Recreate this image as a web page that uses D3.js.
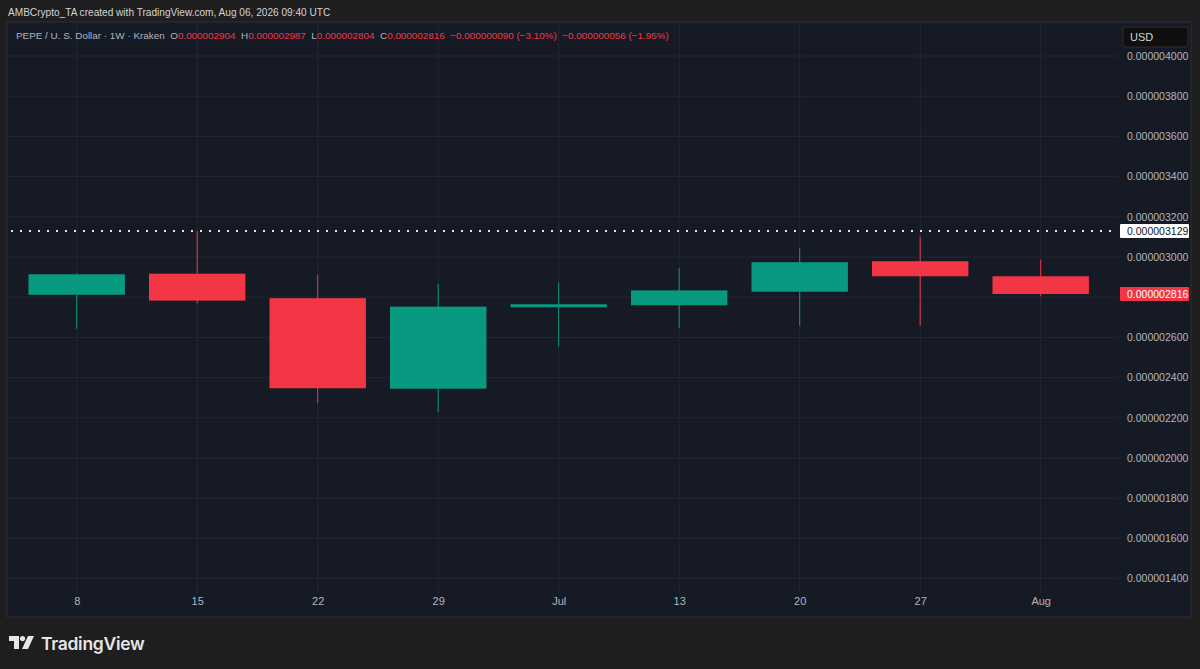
<!DOCTYPE html>
<html>
<head>
<meta charset="utf-8">
<script src="https://cdn.jsdelivr.net/npm/d3@7"></script>
<style>
  html, body { margin: 0; padding: 0; background: #1e1e1e; }
  svg { display: block; }
</style>
</head>
<body>
<svg id="chart" width="1200" height="669"></svg>
<script>
// weekly candles, PEPE/USD (Kraken)
const weeks = ["2026-06-08", "2026-06-15", "2026-06-22", "2026-06-29", "2026-07-06",
               "2026-07-13", "2026-07-20", "2026-07-27", "2026-08-03"];
const tickLabels = ["8", "15", "22", "29", "Jul", "13", "20", "27", "Aug"];
const opens  = [0.000002812, 0.000002917, 0.000002795, 0.000002345, 0.000002750,
                0.000002760, 0.000002827, 0.000002979, 0.000002904];
const highs  = [0.000002919, 0.000003129, 0.000002910, 0.000002866, 0.000002874,
                0.000002944, 0.000003043, 0.000003101, 0.000002987];
const lows   = [0.000002643, 0.000002768, 0.000002272, 0.000002229, 0.000002554,
                0.000002648, 0.000002658, 0.000002658, 0.000002804];
const closes = [0.000002914, 0.000002783, 0.000002347, 0.000002753, 0.000002765,
                0.000002834, 0.000002974, 0.000002904, 0.000002816];
const priceTicks = [0.0000014, 0.0000016, 0.0000018, 0.0000020, 0.0000022, 0.0000024,
                    0.0000026, 0.0000028, 0.0000030, 0.0000032, 0.0000034, 0.0000036,
                    0.0000038, 0.0000040];
const highMark = 0.000003129;
// change figures as printed in the legend
const legendChanges = ["−0.000000090 (−3.10%)", "−0.000000056 (−1.95%)"];

const UP = "#089981", DOWN = "#f23645";
const FONT = "Liberation Sans, sans-serif";
const svg = d3.select("#chart");

const panel = { left: 7, top: 22, right: 1191, bottom: 617 };
const plotRight = 1118, plotBottom = 593;

const parse = d3.utcParse("%Y-%m-%d");
const data = weeks.map(function (w, i) {
    return { date: parse(w), label: tickLabels[i], o: opens[i], h: highs[i], l: lows[i], c: closes[i] };
});
const last = data[data.length - 1];

const x = d3.scaleUtc()
    .domain([data[0].date, last.date])
    .range([76.7, 1040.7]);
const y = d3.scaleLinear().domain([0.0000014, 0.000004]).range([578.6, 56]);
const fmt = d3.format(".9f");

const step = x(data[1].date) - x(data[0].date);
const bodyW = step * 0.8;

// header line
svg.append("text")
    .attr("x", 8).attr("y", 16)
    .attr("font-family", FONT)
    .attr("font-size", 10.1)
    .attr("fill", "#d1d4dc")
    .text("AMBCrypto_TA created with TradingView.com, Aug 06, 2026 09:40 UTC");

// chart panel
svg.append("rect")
    .attr("x", panel.left).attr("y", panel.top)
    .attr("width", panel.right - panel.left).attr("height", panel.bottom - panel.top)
    .attr("fill", "#161a25").attr("stroke", "#2a2e39").attr("stroke-width", 1);

// grid
svg.append("g").selectAll("line").data(priceTicks).enter().append("line")
    .attr("x1", panel.left + 1).attr("x2", plotRight)
    .attr("y1", function (d) { return y(d); }).attr("y2", function (d) { return y(d); })
    .attr("stroke", "#232733").attr("stroke-width", 1);

svg.append("g").selectAll("line").data(data).enter().append("line")
    .attr("x1", function (d) { return x(d.date); }).attr("x2", function (d) { return x(d.date); })
    .attr("y1", panel.top + 1).attr("y2", plotBottom)
    .attr("stroke", "#232733").attr("stroke-width", 1);

// price axis (labels under a badge are hidden, as TradingView does)
const badges = [highMark, last.c];
const shownTicks = priceTicks.filter(function (t) {
    return badges.every(function (b) { return Math.abs(y(t) - y(b)) > 12; });
});
const yAxis = d3.axisRight(y).tickValues(shownTicks).tickFormat(fmt).tickSize(0).tickPadding(0);
const ya = svg.append("g").attr("transform", "translate(1127,0)").call(yAxis);
ya.select(".domain").remove();
ya.selectAll("text")
    .attr("font-family", FONT)
    .attr("font-size", 10.5)
    .attr("fill", "#b2b5be");

// time axis
const xAxis = d3.axisBottom(x)
    .tickValues(data.map(function (d) { return d.date; }))
    .tickFormat(function (d, i) { return tickLabels[i]; })
    .tickSize(0).tickPadding(0);
const xa = svg.append("g").attr("transform", "translate(0,597)").call(xAxis);
xa.select(".domain").remove();
xa.selectAll("text")
    .attr("font-family", FONT)
    .attr("font-size", 11)
    .attr("fill", "#b2b5be");

// high marker line
svg.append("line")
    .attr("x1", panel.left + 4).attr("x2", plotRight)
    .attr("y1", y(highMark)).attr("y2", y(highMark))
    .attr("stroke", "#e8e8e8").attr("stroke-width", 2)
    .attr("stroke-dasharray", "2,7");

// candles
const candles = svg.append("g").selectAll("g").data(data).enter().append("g");
candles.append("line")
    .attr("x1", function (d) { return x(d.date); }).attr("x2", function (d) { return x(d.date); })
    .attr("y1", function (d) { return y(d.h); }).attr("y2", function (d) { return y(d.l); })
    .attr("stroke", function (d) { return d.c >= d.o ? UP : DOWN; })
    .attr("stroke-width", 1);
candles.append("rect")
    .attr("x", function (d) { return x(d.date) - bodyW / 2; })
    .attr("width", bodyW)
    .attr("y", function (d) { return y(Math.max(d.o, d.c)); })
    .attr("height", function (d) { return Math.max(2, Math.abs(y(d.o) - y(d.c))); })
    .attr("fill", function (d) { return d.c >= d.o ? UP : DOWN; });

// price badges
function badge(value, bg, fg) {
    const g = svg.append("g");
    g.append("rect")
        .attr("x", 1120).attr("y", y(value) - 7)
        .attr("width", 69).attr("height", 14)
        .attr("rx", 1).attr("fill", bg);
    g.append("text")
        .attr("x", 1127).attr("y", y(value) + 4)
        .attr("font-family", FONT)
        .attr("font-size", 10.5)
        .attr("fill", fg)
        .text(fmt(value));
}
badge(highMark, "#ffffff", "#131722");
badge(last.c, last.c >= last.o ? UP : DOWN, "#ffffff");

// USD button
svg.append("rect")
    .attr("x", 1123).attr("y", 27).attr("width", 65).attr("height", 20)
    .attr("rx", 3).attr("fill", "#0f0f0f").attr("stroke", "#2e2e2e");
svg.append("text")
    .attr("x", 1130).attr("y", 41)
    .attr("font-family", FONT)
    .attr("font-size", 11)
    .attr("fill", "#d1d4dc")
    .text("USD");

// legend
const legend = svg.append("text")
    .attr("x", 16).attr("y", 39)
    .attr("font-family", FONT)
    .attr("font-size", 9.9)
    .attr("fill", "#b2b5be")
    .attr("xml:space", "preserve");
legend.append("tspan").text("PEPE / U. S. Dollar · 1W · Kraken  ");
[["O", last.o], ["H", last.h], ["L", last.l], ["C", last.c]].forEach(function (p) {
    legend.append("tspan").text(p[0]);
    legend.append("tspan").attr("fill", DOWN).text(fmt(p[1]) + "  ");
});
legend.append("tspan").attr("fill", DOWN).text(legendChanges.join("  "));

// TradingView logo
const logo = svg.append("g").attr("transform", "translate(9,636)").attr("fill", "#e6e6e6");
logo.append("path").attr("d", "M0,0 H10 V13 H5 V5 H0 Z");
logo.append("circle").attr("cx", 13.5).attr("cy", 2.6).attr("r", 2.6);
logo.append("path").attr("d", "M19,0 H25 L19,13 H13 Z");
svg.append("text")
    .attr("x", 41).attr("y", 649.5)
    .attr("font-family", "Inter, sans-serif")
    .attr("font-weight", 600)
    .attr("font-size", 17.5)
    .attr("letter-spacing", -0.3)
    .attr("fill", "#e6e6e6")
    .text("TradingView");
</script>
</body>
</html>
